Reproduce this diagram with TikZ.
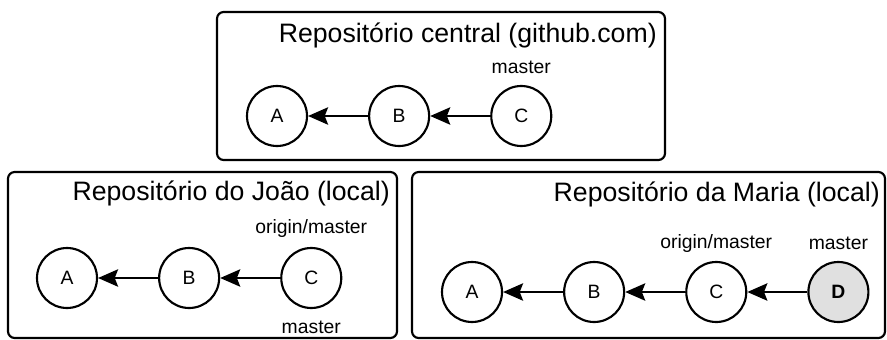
\documentclass[tikz,border=0pt]{standalone}
\usepackage{fontspec}
\setmainfont{Liberation Sans}
\usetikzlibrary{arrows.meta, positioning}

\begin{document}
\begin{tikzpicture}[
  x=0.75pt, y=-0.75pt,
  node distance=45pt,
  repo/.style={draw=black, line width=1.6pt, rounded corners=5pt},
  title/.style={anchor=base east, inner sep=0pt, font=\fontsize{20}{24}\selectfont},
  commit/.style={circle, draw=black, line width=1.6pt, minimum size=45pt,
                 inner sep=0pt, font=\fontsize{14.5}{17}\selectfont},
  head/.style={commit, fill=black!12, font=\fontsize{14.5}{17}\selectfont\bfseries},
  ref/.style={inner sep=0pt, font=\fontsize{14.5}{17}\selectfont},
  parent/.style={-{Stealth[length=15pt, width=13pt, inset=2.5pt]}, line width=1.6pt}
]
\useasboundingbox (0,0) rectangle (887,339);

% central repository
\draw[repo] (217,12) rectangle (665,160);
\node[title] (tCentral) at (657,42) {Repositório central (github.com)};
\node[commit] (cA) at (277,116) {A};
\node[commit, right=of cA] (cB) {B};
\node[commit, right=of cB] (cC) {C};
\node[ref, above=8pt of cC] (cMaster) {master};
\draw[parent] (cB) -- (cA);
\draw[parent] (cC) -- (cB);

% Joao
\draw[repo] (8,172) rectangle (397,338);
\node[title] (tJoao) at (390,200) {Repositório do João (local)};
\node[commit] (jA) at (67,278) {A};
\node[commit, right=of jA] (jB) {B};
\node[commit, right=of jB] (jC) {C};
\node[ref, above=6.5pt of jC] (jOrigin) {origin/master};
\node[ref, below=9pt of jC] (jMaster) {master};
\draw[parent] (jB) -- (jA);
\draw[parent] (jC) -- (jB);

% Maria
\draw[repo] (412,172) rectangle (885,338);
\node[title] (tMaria) at (880,201) {Repositório da Maria (local)};
\node[commit] (mA) at (472,292) {A};
\node[commit, right=of mA] (mB) {B};
\node[commit, right=of mB] (mC) {C};
\node[head, right=of mC] (mD) {D};
\node[ref, above=6pt of mC] (mOrigin) {origin/master};
\node[ref, above=8.5pt of mD] (mMaster) {master};
\draw[parent] (mB) -- (mA);
\draw[parent] (mC) -- (mB);
\draw[parent] (mD) -- (mC);

\end{tikzpicture}
\end{document}
